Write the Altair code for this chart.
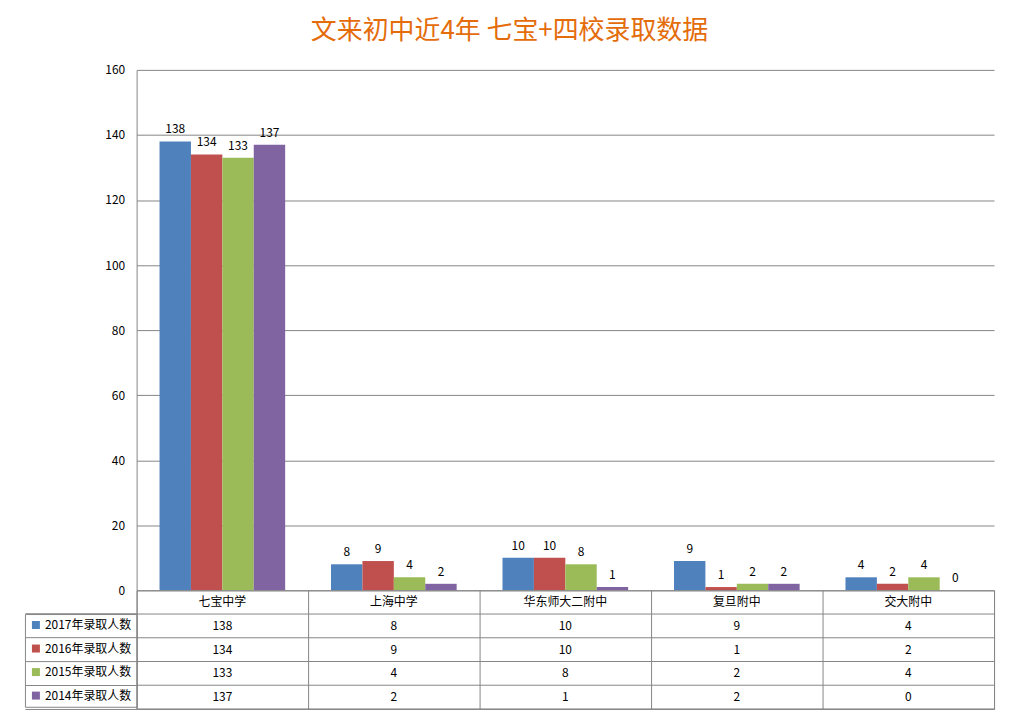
import altair as alt
import pandas as pd

schools = ["七宝中学", "上海中学", "华东师大二附中", "复旦附中", "交大附中"]
series = ["2017年录取人数", "2016年录取人数", "2015年录取人数", "2014年录取人数"]
v2017 = [138, 8, 10, 9, 4]
v2016 = [134, 9, 10, 1, 2]
v2015 = [133, 4, 8, 2, 4]
v2014 = [137, 2, 1, 2, 0]
colors = ["#4F81BD", "#C0504D", "#9BBB59", "#8064A2"]
y_ticks = [0, 20, 40, 60, 80, 100, 120, 140, 160]
title_text = "文来初中近4年 七宝+四校录取数据"

FONT = "Noto Sans CJK SC"
GRID = "#868686"

rows = []
for s_name, vals in zip(series, [v2017, v2016, v2015, v2014]):
    for school, v in zip(schools, vals):
        rows.append({"school": school, "series": s_name, "value": v})
df = pd.DataFrame(rows)

table_rows = []
for school in schools:
    table_rows.append({"school": school, "row": "header", "text": school})
for s_name, vals in zip(series, [v2017, v2016, v2015, v2014]):
    for school, v in zip(schools, vals):
        table_rows.append({"school": school, "row": s_name, "text": str(v)})
tdf = pd.DataFrame(table_rows)
row_order = ["header"] + series
row_df = pd.DataFrame({"row": row_order})

x_enc = alt.X("school:N", sort=schools, title=None,
              scale=alt.Scale(paddingInner=0, paddingOuter=0), axis=None)
xoff_enc = alt.XOffset("series:N", sort=series,
                       scale=alt.Scale(paddingInner=0, paddingOuter=0.73))
y_enc = alt.Y("value:Q", title=None,
              scale=alt.Scale(domain=[0, 160], nice=False),
              axis=alt.Axis(values=y_ticks, grid=True, gridColor=GRID, gridWidth=1,
                            ticks=False, domain=True, domainColor=GRID,
                            labelFont=FONT, labelFontSize=12, labelColor="#000",
                            labelPadding=12))

bars = alt.Chart(df).mark_bar(stroke=None).encode(
    x=x_enc,
    xOffset=xoff_enc,
    y=y_enc,
    color=alt.Color("series:N", sort=series,
                    scale=alt.Scale(domain=series, range=colors),
                    legend=alt.Legend(orient="none", legendX=-112, legendY=545.8,
                                      title=None, direction="vertical",
                                      symbolType="square", symbolSize=64,
                                      symbolStrokeWidth=0, labelFont=FONT,
                                      labelFontSize=12, labelColor="#000",
                                      labelOffset=3, rowPadding=11.6,
                                      padding=5, strokeColor=GRID,
                                      labelLimit=200)),
)
labels = alt.Chart(df).mark_text(dy=-12, font=FONT, fontSize=12, color="#000").encode(
    x=x_enc,
    xOffset=xoff_enc,
    y=alt.Y("value:Q", scale=alt.Scale(domain=[0, 160], nice=False)),
    text="value:Q",
)
top = alt.layer(bars, labels).properties(width=860, height=522,
                                         view=alt.ViewBackground(stroke=None))

ty_scale = alt.Scale(domain=row_order, paddingInner=0, paddingOuter=0)

table_text = alt.Chart(tdf).mark_text(font=FONT, fontSize=12, color="#000").encode(
    x=alt.X("school:N", sort=schools, title=None,
            scale=alt.Scale(paddingInner=0, paddingOuter=0),
            axis=alt.Axis(orient="top", labels=False, ticks=False, domain=False,
                          grid=True, gridColor=GRID, tickBand="extent")),
    y=alt.Y("row:N", sort=row_order, title=None, scale=ty_scale,
            axis=alt.Axis(labels=False, ticks=True, tickSize=112, tickColor=GRID,
                          bandPosition=1, domain=False, grid=False)),
    text="text:N",
)
row_lines = alt.Chart(row_df).mark_rule(color=GRID, strokeWidth=1).encode(
    y=alt.Y("row:N", sort=row_order, title=None, scale=ty_scale, bandPosition=1),
)
table = alt.layer(row_lines, table_text).properties(
    width=860, height=119, view=alt.ViewBackground(stroke=GRID, strokeWidth=1))

chart = alt.vconcat(top, table, spacing=0, bounds="flush").properties(
    title=alt.Title(title_text, font=FONT, fontSize=26, color="#E46C0A",
                    fontWeight="normal", anchor="middle", frame="bounds", offset=20),
    padding={"left": 16, "top": 9, "right": 10, "bottom": 5},
).configure_concat(spacing=0)

chart.save("out.html", embed_options={"renderer": "svg", "actions": False})
